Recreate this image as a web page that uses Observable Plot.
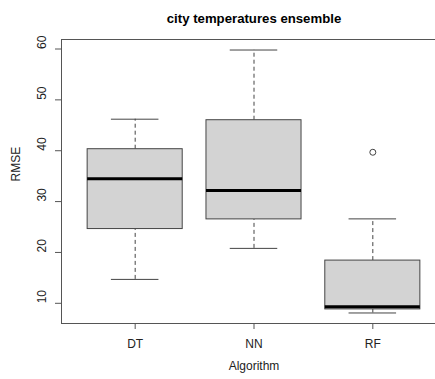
<!DOCTYPE html>
<html>
<head>
<meta charset="utf-8">
<script src="https://cdn.jsdelivr.net/npm/d3@7"></script>
<script src="https://cdn.jsdelivr.net/npm/@observablehq/plot@0.6"></script>
<style>
  html, body { margin: 0; padding: 0; background: #fff; }
  svg { font-family: "Liberation Sans", Arial, Helvetica, sans-serif; }
</style>
</head>
<body>
<div id="chart"></div>
<script>
const title = "city temperatures ensemble";
const xLabel = "Algorithm";
const yLabel = "RMSE";
const categories = ["DT", "NN", "RF"];
const lowerWhisker = [14.7, 20.8, 8.1];
const q1 = [24.6, 26.5, 8.8];
const median = [34.5, 32.2, 9.3];
const q3 = [40.3, 46.0, 18.4];
const upperWhisker = [46.2, 59.8, 26.6];
const outlierCategory = ["RF"];
const outlierValue = [39.7];
const yTicks = [10, 20, 30, 40, 50, 60];

const boxes = categories.map((c, i) => ({
  cat: c, pos: i + 1,
  lo: lowerWhisker[i], q1: q1[i], med: median[i], q3: q3[i], hi: upperWhisker[i]
}));
const outliers = outlierCategory.map((c, i) => ({pos: categories.indexOf(c) + 1, value: outlierValue[i]}));

const halfBox = 0.4, halfCap = 0.2;
const line = "#444";

const chart = Plot.plot({
  width: 435,
  height: 379,
  marginTop: 39,
  marginBottom: 56,
  marginLeft: 61,
  marginRight: -11,
  style: {fontFamily: "Liberation Sans, Arial, Helvetica, sans-serif", fontSize: "12px", background: "#fff"},
  x: {type: "linear", domain: [0.38, 3.62]},
  y: {domain: [6.03, 61.87]},
  marks: [
    // whiskers
    Plot.ruleX(boxes, {x: "pos", y1: "q3", y2: "hi", stroke: line, strokeDasharray: "4,3", strokeWidth: 1}),
    Plot.ruleX(boxes, {x: "pos", y1: "lo", y2: "q1", stroke: line, strokeDasharray: "4,3", strokeWidth: 1}),
    // caps
    Plot.ruleY(boxes, {y: "hi", x1: d => d.pos - halfCap, x2: d => d.pos + halfCap, stroke: line, strokeWidth: 1}),
    Plot.ruleY(boxes, {y: "lo", x1: d => d.pos - halfCap, x2: d => d.pos + halfCap, stroke: line, strokeWidth: 1}),
    // boxes
    Plot.rect(boxes, {x1: d => d.pos - halfBox, x2: d => d.pos + halfBox, y1: "q1", y2: "q3", fill: "#d3d3d3", stroke: line, strokeWidth: 1}),
    // medians
    Plot.ruleY(boxes, {y: "med", x1: d => d.pos - halfBox, x2: d => d.pos + halfBox, stroke: "#000", strokeWidth: 3}),
    // outliers
    Plot.dot(outliers, {x: "pos", y: "value", r: 3, fill: "none", stroke: line, strokeWidth: 1}),
    Plot.frame({stroke: "#555"}),
    // axes
    Plot.axisX({ticks: [1, 2, 3], tickFormat: d => categories[d - 1], tickSize: 6, tickPadding: 10, stroke: "#555", fill: "#222", fontSize: 12, label: null}),
    Plot.axisY({ticks: yTicks, tickSize: 6, text: null, stroke: "#555", label: null}),
    Plot.text(yTicks, {y: d => d, text: d => String(d), frameAnchor: "left", dx: -19, rotate: -90, fontSize: 12, fill: "#222"}),
    // labels
    Plot.text([xLabel], {frameAnchor: "bottom", dy: 46, fontSize: 12, fill: "#222"}),
    Plot.text([yLabel], {frameAnchor: "left", dx: -45, rotate: -90, fontSize: 12, fill: "#222"}),
    Plot.text([title], {frameAnchor: "top", dy: -26, fontSize: 13.2, fontWeight: "bold", fill: "#000"})
  ]
});
document.getElementById("chart").appendChild(chart);
</script>
</body>
</html>
